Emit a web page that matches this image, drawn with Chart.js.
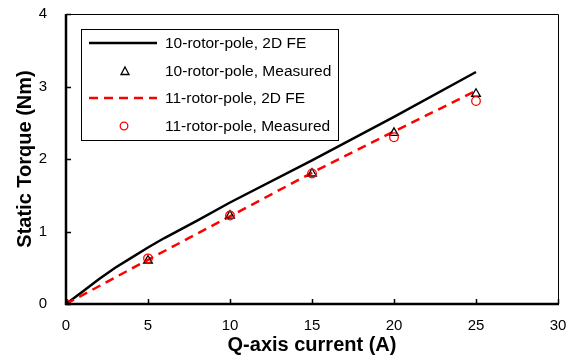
<!DOCTYPE html>
<html>
<head>
<meta charset="utf-8">
<script src="https://cdn.jsdelivr.net/npm/chart.js@4/dist/chart.umd.min.js"></script>
<style>
  html, body { margin: 0; padding: 0; background: #fff; }
  #wrap { width: 570px; height: 358px; position: relative; }
</style>
</head>
<body>
<div id="wrap"><canvas id="c" width="570" height="358"></canvas></div>
<script>
// Q-axis current (A) vs static torque (Nm)
const fe10Current = [0, 1, 2, 3, 4, 5, 6, 7, 8, 10, 15, 20, 25];
const fe10Torque  = [0, 0.17, 0.34, 0.50, 0.64, 0.78, 0.91, 1.03, 1.15, 1.40, 1.98, 2.58, 3.20];
const fe11Current = [0, 5, 10, 15, 20, 25];
const fe11Torque  = [0, 0.61, 1.21, 1.81, 2.38, 2.94];

const measCurrent  = [0, 5, 10, 15, 20, 25];
const meas10Torque = [0, 0.60, 1.22, 1.80, 2.36, 2.90];
const meas11Torque = [0, 0.63, 1.22, 1.80, 2.30, 2.80];

const seriesLabels = [
  '10-rotor-pole, 2D FE',
  '10-rotor-pole, Measured',
  '11-rotor-pole, 2D FE',
  '11-rotor-pole, Measured'
];
const xTicks = [0, 5, 10, 15, 20, 25, 30];
const yTicks = [0, 1, 2, 3, 4];

const FONT = '"Liberation Sans", Arial, sans-serif';
const toXY = (xs, ys) => xs.map((x, i) => ({ x: x, y: ys[i] }));

// Inward tick marks plus the heavier left/bottom axis lines
const axisPlugin = {
  id: 'axisFrame',
  afterDatasetsDraw(chart) {
    const { ctx, chartArea: a, scales: { x, y } } = chart;
    ctx.save();
    // thin top/right frame
    ctx.strokeStyle = '#000';
    ctx.lineWidth = 1;
    ctx.beginPath();
    ctx.moveTo(a.left, a.top + 0.5);
    ctx.lineTo(a.right + 0.5, a.top + 0.5);
    ctx.lineTo(a.right + 0.5, a.bottom);
    ctx.stroke();
    // thick left/bottom axes
    ctx.lineWidth = 2.5;
    ctx.beginPath();
    ctx.moveTo(a.left, a.top);
    ctx.lineTo(a.left, a.bottom);
    ctx.lineTo(a.right + 1, a.bottom);
    ctx.stroke();
    // inward ticks
    ctx.lineWidth = 1.5;
    ctx.beginPath();
    xTicks.forEach(v => {
      const px = Math.round(x.getPixelForValue(v)) + 0.5;
      ctx.moveTo(px, a.bottom);
      ctx.lineTo(px, a.bottom - 5);
    });
    yTicks.forEach(v => {
      const py = Math.round(y.getPixelForValue(v)) + 0.5;
      ctx.moveTo(a.left, py);
      ctx.lineTo(a.left + 5, py);
    });
    ctx.stroke();
    ctx.restore();
  }
};

// Boxed legend drawn inside the plot area
const legendPlugin = {
  id: 'boxLegend',
  afterDraw(chart) {
    const { ctx } = chart;
    const bx = 81.5, by = 29.5, bw = 257, bh = 111;
    ctx.save();
    ctx.fillStyle = '#fff';
    ctx.fillRect(bx, by, bw, bh);
    ctx.strokeStyle = '#000';
    ctx.lineWidth = 1;
    ctx.strokeRect(bx, by, bw, bh);
    const rows = [43, 71, 98, 126];
    chart.data.datasets.forEach((ds, i) => {
      const ry = rows[i];
      ctx.strokeStyle = ds.borderColor;
      if (ds.showLine) {
        ctx.lineWidth = ds.borderWidth;
        ctx.setLineDash(ds.borderDash || []);
        ctx.beginPath();
        ctx.moveTo(89, ry);
        ctx.lineTo(157, ry);
        ctx.stroke();
        ctx.setLineDash([]);
      } else {
        ctx.lineWidth = 1.3;
        ctx.beginPath();
        if (ds.pointStyle === 'triangle') {
          ctx.moveTo(125, ry - 4);
          ctx.lineTo(129, ry + 3.5);
          ctx.lineTo(121, ry + 3.5);
          ctx.closePath();
        } else {
          ctx.arc(124, ry, 3.8, 0, Math.PI * 2);
        }
        ctx.stroke();
      }
      ctx.fillStyle = '#000';
      ctx.font = '15.5px ' + FONT;
      ctx.textBaseline = 'middle';
      ctx.textAlign = 'left';
      ctx.fillText(ds.label, 165, ry + 1);
    });
    ctx.restore();
  }
};

new Chart(document.getElementById('c'), {
  type: 'scatter',
  data: {
    datasets: [
      {
        label: seriesLabels[0],
        data: toXY(fe10Current, fe10Torque),
        showLine: true,
        borderColor: '#000',
        borderWidth: 2.5,
        pointRadius: 0,
        order: 3
      },
      {
        label: seriesLabels[1],
        data: toXY(measCurrent, meas10Torque),
        showLine: false,
        pointStyle: 'triangle',
        pointRadius: 5,
        borderColor: '#000',
        backgroundColor: 'rgba(0,0,0,0)',
        pointBorderWidth: 1.3,
        order: 1
      },
      {
        label: seriesLabels[2],
        data: toXY(fe11Current, fe11Torque),
        showLine: true,
        borderColor: '#ff0000',
        borderWidth: 2.5,
        borderDash: [9, 6],
        pointRadius: 0,
        order: 2
      },
      {
        label: seriesLabels[3],
        data: toXY(measCurrent, meas11Torque),
        showLine: false,
        pointStyle: 'circle',
        pointRadius: 4.3,
        borderColor: '#ff0000',
        backgroundColor: 'rgba(0,0,0,0)',
        pointBorderWidth: 1.3,
        order: 0
      }
    ]
  },
  options: {
    responsive: false,
    animation: false,
    events: [],
    layout: { padding: { left: 0, top: 14, right: 12, bottom: 0 } },
    plugins: { legend: { display: false }, tooltip: { enabled: false } },
    scales: {
      x: {
        type: 'linear',
        min: 0, max: 30,
        afterBuildTicks: s => { s.ticks = xTicks.map(v => ({ value: v })); },
        afterFit: s => { s.height = 54; s.paddingLeft = 0; s.paddingRight = 0; },
        grid: { display: false, drawTicks: false },
        border: { display: false },
        ticks: { color: '#000', font: { family: FONT, size: 15 }, padding: 13, maxRotation: 0 },
        title: {
          display: true,
          text: 'Q-axis current (A)',
          color: '#000',
          font: { family: FONT, size: 20, weight: 'bold' },
          padding: { top: 0, bottom: 1 }
        }
      },
      y: {
        type: 'linear',
        min: 0, max: 4,
        afterBuildTicks: s => { s.ticks = yTicks.map(v => ({ value: v })); },
        afterFit: s => { s.width = 66; s.paddingTop = 0; s.paddingBottom = 0; },
        grid: { display: false, drawTicks: false },
        border: { display: false },
        ticks: { color: '#000', font: { family: FONT, size: 15 }, padding: 19 },
        title: {
          display: true,
          text: 'Static Torque (Nm)',
          color: '#000',
          font: { family: FONT, size: 20, weight: 'bold' },
          padding: { top: 13, bottom: 0 }
        }
      }
    }
  },
  plugins: [axisPlugin, legendPlugin]
});
</script>
</body>
</html>
